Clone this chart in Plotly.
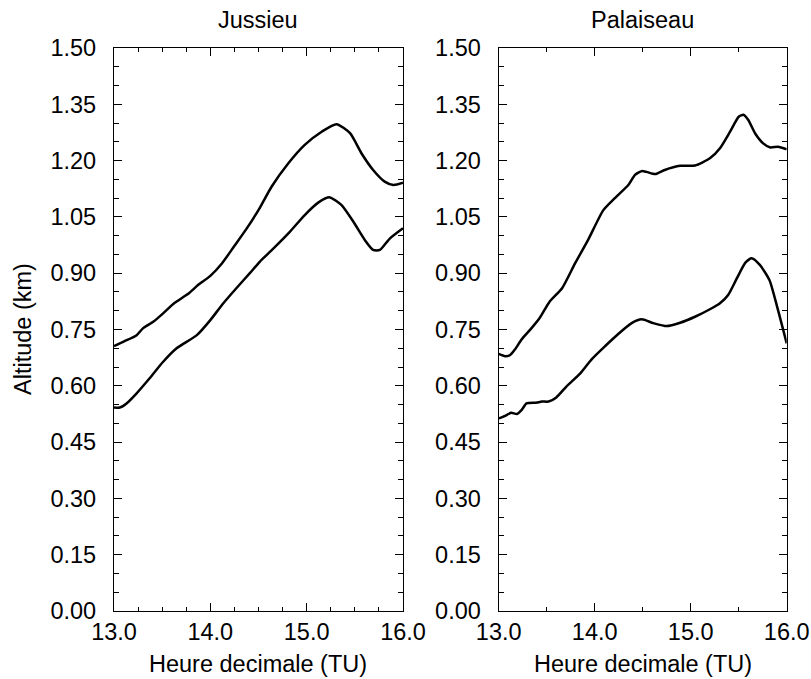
import plotly.graph_objects as go

# Jussieu
jus_top_x = [13.0, 13.11, 13.235, 13.30, 13.41, 13.51, 13.63, 13.77, 13.875, 14.0, 14.12, 14.24, 14.38, 14.515,
             14.637, 14.81, 14.98, 15.156, 15.31, 15.45, 15.57, 15.69, 15.81, 15.90, 16.0]
jus_top_y = [0.706, 0.719, 0.735, 0.753, 0.771, 0.793, 0.821, 0.845, 0.869, 0.893, 0.926, 0.969, 1.02, 1.075,
             1.131, 1.193, 1.242, 1.277, 1.297, 1.273, 1.219, 1.175, 1.144, 1.135, 1.141]
jus_bot_x = [13.0, 13.06, 13.13, 13.235, 13.37, 13.51, 13.65, 13.86, 14.0, 14.135, 14.27, 14.41, 14.515,
             14.64, 14.81, 14.98, 15.12, 15.24, 15.36, 15.485, 15.605, 15.69, 15.76, 15.865, 16.0]
jus_bot_y = [0.542, 0.542, 0.553, 0.580, 0.620, 0.664, 0.700, 0.735, 0.775, 0.820, 0.860, 0.900, 0.931,
             0.962, 1.006, 1.055, 1.088, 1.102, 1.082, 1.037, 0.988, 0.962, 0.962, 0.993, 1.020]

# Palaiseau
pal_top_x = [13.0, 13.066, 13.12, 13.17, 13.24, 13.34, 13.43, 13.53, 13.66, 13.795, 13.93, 14.09, 14.21, 14.35,
             14.42, 14.49, 14.54, 14.63, 14.73, 14.89, 15.045, 15.20, 15.305, 15.41, 15.50, 15.55, 15.60,
             15.67, 15.755, 15.83, 15.91, 16.0]
pal_top_y = [0.685, 0.679, 0.682, 0.697, 0.724, 0.753, 0.782, 0.824, 0.860, 0.926, 0.988, 1.068, 1.10, 1.135,
             1.162, 1.172, 1.170, 1.164, 1.175, 1.186, 1.187, 1.206, 1.233, 1.277, 1.317, 1.322, 1.308,
             1.273, 1.246, 1.235, 1.237, 1.230]
pal_bot_x = [13.0, 13.066, 13.13, 13.19, 13.24, 13.29, 13.39, 13.45, 13.52, 13.60, 13.705, 13.85, 13.97, 14.11,
             14.245, 14.385, 14.49, 14.61, 14.75, 14.89, 15.045, 15.20, 15.305, 15.39, 15.48, 15.57, 15.635,
             15.72, 15.82, 15.90, 16.0]
pal_bot_y = [0.513, 0.520, 0.528, 0.525, 0.536, 0.553, 0.555, 0.558, 0.558, 0.569, 0.598, 0.633, 0.671, 0.706,
             0.738, 0.767, 0.777, 0.767, 0.759, 0.768, 0.784, 0.804, 0.820, 0.842, 0.886, 0.928, 0.940,
             0.922, 0.882, 0.811, 0.713]

titles = ["Jussieu", "Palaiseau"]
x_label = "Heure decimale (TU)"
y_label = "Altitude (km)"

W, H = 811, 679
FONT = "Liberation Sans, Arial, sans-serif"
FS = 23.5

fig = go.Figure()
line = dict(color="black", width=2.5, shape="spline", smoothing=0.6)
fig.add_trace(go.Scatter(x=jus_top_x, y=jus_top_y, mode="lines", line=line, xaxis="x", yaxis="y", showlegend=False))
fig.add_trace(go.Scatter(x=jus_bot_x, y=jus_bot_y, mode="lines", line=line, xaxis="x", yaxis="y", showlegend=False))
fig.add_trace(go.Scatter(x=pal_top_x, y=pal_top_y, mode="lines", line=line, xaxis="x2", yaxis="y2", showlegend=False))
fig.add_trace(go.Scatter(x=pal_bot_x, y=pal_bot_y, mode="lines", line=line, xaxis="x2", yaxis="y2", showlegend=False))

dom1 = [114 / W, 403 / W]
dom2 = [498.7 / W, 786.7 / W]
ydom = [1 - 611 / H, 1 - 48 / H]
tickfont = dict(family=FONT, size=FS, color="black")


def xax(domain, anchor, mdt):
    return dict(domain=domain, anchor=anchor, range=[13, 16], dtick=1, tick0=13, tickformat=".1f",
                ticks="inside", ticklen=8, tickwidth=1.2, tickcolor="black",
                minor=dict(ticks="inside", dtick=mdt, tick0=13, ticklen=4, tickwidth=1.2, tickcolor="black"),
                showline=True, linecolor="black", linewidth=1.3, mirror="ticks",
                showgrid=False, zeroline=False, automargin=False, fixedrange=True,
                tickfont=tickfont)


def yax(anchor):
    return dict(domain=ydom, anchor=anchor, range=[0, 1.5], dtick=0.15, tick0=0, tickformat=".2f",
                ticks="inside", ticklen=8, tickwidth=1.2, tickcolor="black",
                minor=dict(ticks="inside", dtick=0.05, tick0=0, ticklen=5, tickwidth=1.2, tickcolor="black"),
                showline=True, linecolor="black", linewidth=1.3, mirror="ticks",
                showgrid=False, zeroline=False, ticklabelstandoff=12, automargin=False, fixedrange=True,
                tickfont=tickfont)


annotations = []
for t, dom in zip(titles, [dom1, dom2]):
    cx = sum(dom) / 2
    annotations.append(dict(text=t, x=cx, y=1 - 20 / H, xref="paper", yref="paper", showarrow=False,
                            xanchor="center", yanchor="middle", font=tickfont))
    annotations.append(dict(text=x_label, x=cx, y=1 - 664 / H, xref="paper", yref="paper", showarrow=False,
                            xanchor="center", yanchor="middle", font=tickfont))
annotations.append(dict(text=y_label, x=23 / W, y=1 - 329 / H, xref="paper", yref="paper", showarrow=False,
                        xanchor="center", yanchor="middle", textangle=-90, font=tickfont))

fig.update_layout(
    width=W, height=H,
    margin=dict(l=0, r=0, t=0, b=0, autoexpand=False),
    paper_bgcolor="white", plot_bgcolor="white",
    xaxis=xax(dom1, "y", 0.25),
    yaxis=yax("x"),
    xaxis2=xax(dom2, "y2", 0.5),
    yaxis2=yax("x2"),
    annotations=annotations,
)

fig.write_html("out.html", config={"displayModeBar": False},
               post_script="document.body.style.margin='0px';document.body.style.padding='0px';")
